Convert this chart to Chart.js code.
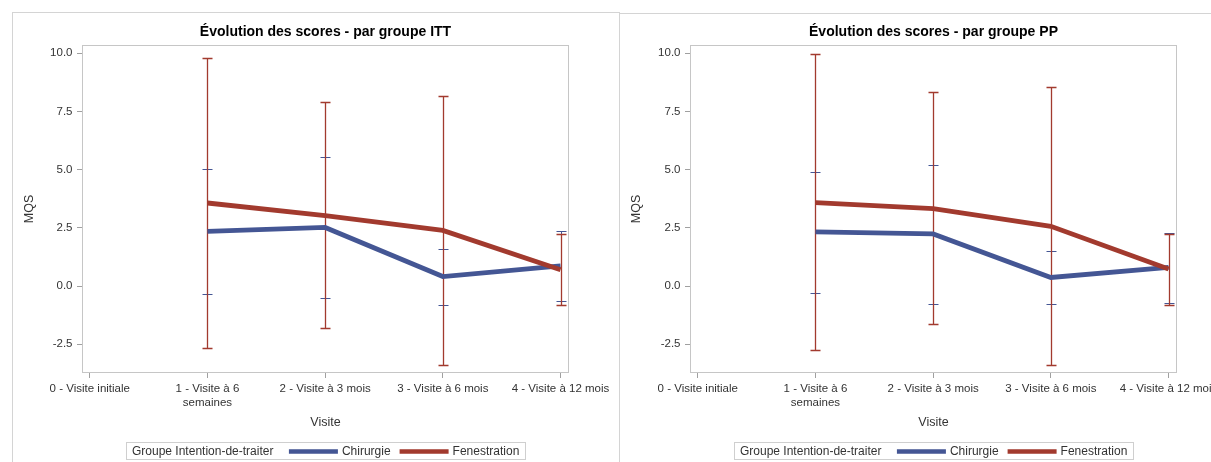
<!DOCTYPE html>
<html lang="fr">
<head>
<meta charset="utf-8">
<title>Évolution des scores</title>
<script src="https://cdn.jsdelivr.net/npm/chart.js@4.4.1/dist/chart.umd.min.js"></script>
<style>
  html, body { margin: 0; padding: 0; background: #fff; overflow: hidden; width: 1211px; height: 462px; }
  .panel { position: absolute; box-sizing: border-box; }
  #panelL { left: 12px; top: 12px; width: 608px; height: 470px; border: 1px solid #d4d4d4; border-bottom: none; }
  #panelR { left: 620px; top: 13px; width: 600px; height: 470px; border-top: 1px solid #d4d4d4; }
  canvas { position: absolute; top: 0; }
  #chartITT { left: 12px; }
  #chartPP { left: 619px; }
</style>
</head>
<body>
<div class="panel" id="panelL"></div>
<div class="panel" id="panelR"></div>
<canvas id="chartITT" width="607" height="462"></canvas>
<canvas id="chartPP" width="620" height="462"></canvas>
<script>
// Visits on the x axis (index = visit number)
const categories = [
  '0 - Visite initiale',
  ['1 - Visite à 6', 'semaines'],
  '2 - Visite à 3 mois',
  '3 - Visite à 6 mois',
  '4 - Visite à 12 mois'
];

// Y axis ticks and their labels
const yTicks = [-2.5, 0, 2.5, 5, 7.5, 10];
const yTickLabels = ['-2.5', '0.0', '2.5', '5.0', '7.5', '10.0'];

// ITT: mean MQS change with confidence limits
const chirITTMean = [null, 2.35, 2.52, 0.41, 0.87];
const chirITTLow  = [null, -0.36, -0.52, -0.82, -0.64];
const chirITTHigh = [null, 5.01, 5.54, 1.60, 2.38];
const fenITTMean  = [null, 3.57, 3.03, 2.39, 0.70];
const fenITTLow   = [null, -2.66, -1.79, -3.38, -0.82];
const fenITTHigh  = [null, 9.79, 7.89, 8.15, 2.23];

// PP: mean MQS change with confidence limits
const chirPPMean = [null, 2.33, 2.24, 0.37, 0.80];
const chirPPLow  = [null, -0.30, -0.75, -0.79, -0.72];
const chirPPHigh = [null, 4.91, 5.20, 1.51, 2.28];
const fenPPMean  = [null, 3.59, 3.33, 2.57, 0.73];
const fenPPLow   = [null, -2.76, -1.61, -3.41, -0.82];
const fenPPHigh  = [null, 9.98, 8.32, 8.56, 2.24];

const groupNames = ['Chirurgie', 'Fenestration'];
const legendTitle = 'Groupe Intention-de-traiter';

const BLUE = '#445694';
const RED = '#A23A2E';
const FONT = "'Liberation Sans', Arial, sans-serif";
const TEXT = '#333333';
const FRAME = '#c6c6c6';
const TICK = '#a0a0a0';

// Plot frame around the chart area
const framePlugin = {
  id: 'frame',
  beforeDatasetsDraw(chart) {
    const { ctx, chartArea: a } = chart;
    ctx.save();
    ctx.strokeStyle = FRAME;
    ctx.lineWidth = 1;
    ctx.strokeRect(a.left + 0.5, a.top + 0.5, a.width - 1, a.height - 1);
    ctx.restore();
  }
};

// Vertical confidence-limit bars with caps, drawn under the mean lines
// (Chirurgie first and thinner, Fenestration on top)
const errorBarPlugin = {
  id: 'errorBars',
  beforeDatasetsDraw(chart) {
    const { ctx } = chart;
    const xs = chart.scales.x, ys = chart.scales.y;
    const sets = chart.data.datasets.slice().sort((a, b) => b.order - a.order);
    ctx.save();
    sets.forEach(ds => {
      ctx.strokeStyle = ds.borderColor;
      ctx.lineWidth = ds.barWidth;
      ds.errLow.forEach((lo, i) => {
        const hi = ds.errHigh[i];
        if (lo === null || hi === null) return;
        const x = Math.round(xs.getPixelForValue(i)) + 0.5;
        const y1 = Math.round(ys.getPixelForValue(lo)) + 0.5;
        const y2 = Math.round(ys.getPixelForValue(hi)) + 0.5;
        ctx.beginPath();
        ctx.moveTo(x, y1); ctx.lineTo(x, y2);
        ctx.moveTo(x - 5, y1); ctx.lineTo(x + 5, y1);
        ctx.moveTo(x - 5, y2); ctx.lineTo(x + 5, y2);
        ctx.stroke();
      });
    });
    ctx.restore();
  }
};

// Chart title and the inline legend box under the axis
const decorPlugin = {
  id: 'decor',
  afterDraw(chart) {
    const { ctx, chartArea: a } = chart;
    const cx = (a.left + a.right) / 2;
    const o = chart.options.plugins.decor;
    ctx.save();
    ctx.fillStyle = '#000';
    ctx.font = 'bold 14px ' + FONT;
    ctx.textAlign = 'center';
    ctx.textBaseline = 'alphabetic';
    ctx.fillText(o.title, cx, 36);

    ctx.font = '12px ' + FONT;
    ctx.textAlign = 'left';
    ctx.textBaseline = 'middle';
    const wT = ctx.measureText(legendTitle).width;
    const w1 = ctx.measureText(groupNames[0]).width;
    const w2 = ctx.measureText(groupNames[1]).width;
    const sw = 49, padL = 6, padR = 6, gapT = 15.5, gapS = 4, gapI = 9;
    const total = padL + wT + gapT + sw + gapS + w1 + gapI + sw + gapS + w2 + padR;
    const bx = Math.round(cx - total / 2);
    const by = 442, bh = 17;
    ctx.strokeStyle = '#cfcfcf';
    ctx.lineWidth = 1;
    ctx.strokeRect(bx + 0.5, by + 0.5, Math.round(total), bh);
    const ty = by + bh / 2 + 1;
    let x = bx + padL;
    ctx.fillStyle = TEXT;
    ctx.fillText(legendTitle, x, ty);
    x += wT + gapT;
    ctx.fillStyle = BLUE;
    ctx.fillRect(x, ty - 2.25, sw, 4.5);
    x += sw + gapS;
    ctx.fillStyle = TEXT;
    ctx.fillText(groupNames[0], x, ty);
    x += w1 + gapI;
    ctx.fillStyle = RED;
    ctx.fillRect(x, ty - 2.25, sw, 4.5);
    x += sw + gapS;
    ctx.fillStyle = TEXT;
    ctx.fillText(groupNames[1], x, ty);
    ctx.restore();
  }
};

function points(means) {
  return means.map((v, i) => ({ x: i, y: v })).filter(p => p.y !== null);
}

function makeChart(id, title, chir, fen, yWidth, padRight) {
  const tickFont = { family: FONT, size: 11.5, lineHeight: 1.165 };
  const titleFont = { family: FONT, size: 12.5, lineHeight: 1.2 };
  return new Chart(document.getElementById(id), {
    type: 'line',
    data: {
      datasets: [
        {
          label: groupNames[1], data: points(fen.mean), errLow: fen.low, errHigh: fen.high,
          borderColor: RED, backgroundColor: RED, borderWidth: 4.8, order: 0, barWidth: 1.3
        },
        {
          label: groupNames[0], data: points(chir.mean), errLow: chir.low, errHigh: chir.high,
          borderColor: BLUE, backgroundColor: BLUE, borderWidth: 4.8, order: 1, barWidth: 1
        }
      ]
    },
    options: {
      responsive: false,
      animation: false,
      devicePixelRatio: 1,
      layout: { padding: { top: 45, left: 0, right: padRight, bottom: 0 } },
      elements: { point: { radius: 0, hoverRadius: 0 }, line: { tension: 0 } },
      plugins: {
        legend: { display: false },
        title: { display: false },
        tooltip: { enabled: false },
        decor: { title: title }
      },
      scales: {
        x: {
          type: 'linear',
          min: -0.066,
          max: 4.072,
          afterBuildTicks: s => { s.ticks = categories.map((c, i) => ({ value: i })); },
          afterFit: s => { s.height = 462 - 373; },
          border: { display: false },
          grid: { drawOnChartArea: false, drawTicks: true, tickLength: 5, tickColor: TICK, color: TICK },
          ticks: {
            autoSkip: false, maxRotation: 0, minRotation: 0, padding: 4.6,
            color: TEXT, font: tickFont,
            callback: v => categories[v]
          },
          title: { display: true, text: 'Visite', color: TEXT, font: titleFont, padding: { top: 0, bottom: 32.2 } }
        },
        y: {
          min: -3.733,
          max: 10.357,
          afterBuildTicks: s => { s.ticks = yTicks.map(v => ({ value: v })); },
          afterFit: s => { s.width = yWidth; },
          border: { display: false },
          grid: { drawOnChartArea: false, drawTicks: true, tickLength: 5, tickColor: TICK, color: TICK },
          ticks: {
            padding: 4.5, color: TEXT, font: tickFont,
            callback: v => yTickLabels[yTicks.indexOf(v)]
          },
          title: { display: true, text: 'MQS', color: TEXT, font: titleFont, padding: { top: 10, bottom: 0 } }
        }
      }
    },
    plugins: [framePlugin, errorBarPlugin, decorPlugin]
  });
}

makeChart('chartITT', 'Évolution des scores - par groupe ITT',
  { mean: chirITTMean, low: chirITTLow, high: chirITTHigh },
  { mean: fenITTMean, low: fenITTLow, high: fenITTHigh },
  70, 50);

makeChart('chartPP', 'Évolution des scores - par groupe PP',
  { mean: chirPPMean, low: chirPPLow, high: chirPPHigh },
  { mean: fenPPMean, low: fenPPLow, high: fenPPHigh },
  71, 62);
</script>
</body>
</html>
